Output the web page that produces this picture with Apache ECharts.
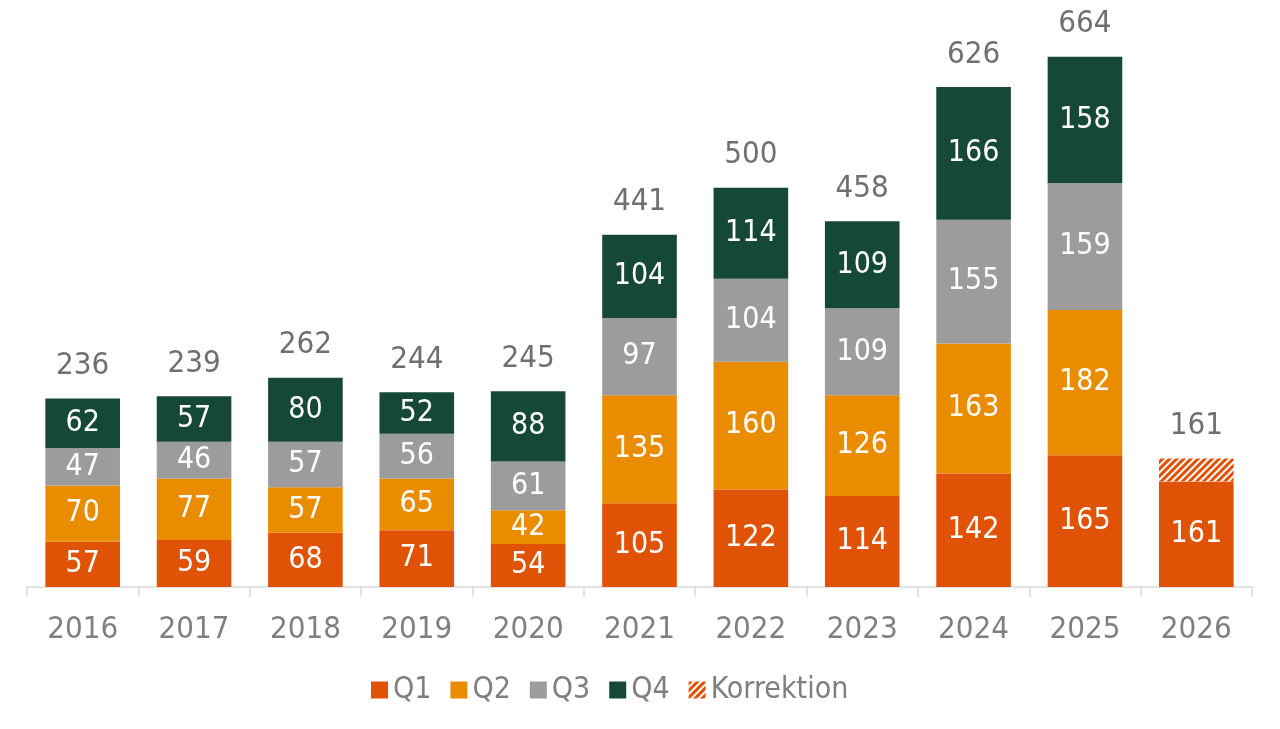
<!DOCTYPE html>
<html><head><meta charset="utf-8">
<script src="https://cdn.jsdelivr.net/npm/echarts@6/dist/echarts.min.js"></script>
<style>html,body{margin:0;padding:0;background:#fff}#c{width:1280px;height:729px}</style>
</head><body><div id="c"></div>
<script>
const categories = ['2016','2017','2018','2019','2020','2021','2022','2023','2024','2025','2026'];
const q1 = [57,59,68,71,54,105,122,114,142,165,132];
const q2 = [70,77,57,65,42,135,160,126,163,182,null];
const q3 = [47,46,57,56,61,97,104,109,155,159,null];
const q4 = [62,57,80,52,88,104,114,109,166,158,null];
const korrektion = [null,null,null,null,null,null,null,null,null,null,29];
const totals = [236,239,262,244,245,441,500,458,626,664,161];

const FONT = "'DejaVu Sans Condensed','DejaVu Sans',sans-serif";
const C1='#E05206', C2='#EA8C00', C3='#9C9C9C', C4='#16483A';
const inLabel = (fmt)=>({show:true,position:'inside',color:'#fff',fontSize:30,fontFamily:FONT,formatter:fmt});
function seg(name,data,color,fmt){
  return {name,type:'bar',stack:'s',data,barCategoryGap:'33%',itemStyle:{color},
    label:inLabel(fmt||(p=>p.value==null?'':p.value))};
}
const chart = echarts.init(document.getElementById('c'));
chart.setOption({
  animation:false,
  grid:{left:27,right:28,top:28,bottom:142},
  legend:{data:['Q1','Q2','Q3','Q4','Korrektion'],left:366,top:670,itemWidth:17,itemHeight:17,itemGap:19,
    textStyle:{fontSize:30,color:'#7f7f7f',fontFamily:FONT},icon:'rect'},
  xAxis:{type:'category',data:categories,
    axisLine:{lineStyle:{color:'#dadada',width:1.5}},
    axisTick:{show:true,length:10,lineStyle:{color:'#dadada',width:1.5}},
    axisLabel:{fontSize:31,color:'#7f7f7f',fontFamily:FONT,margin:27}},
  yAxis:{type:'value',min:0,max:700,show:false,splitLine:{show:false}},
  series:[
    seg('Q1',q1,C1,p=>String(p.value+(korrektion[p.dataIndex]||0))),
    seg('Q2',q2,C2),
    seg('Q3',q3,C3),
    seg('Q4',q4,C4),
    {name:'Korrektion',type:'bar',stack:'s',data:korrektion,
      itemStyle:{color:'#ffffff',decal:{symbol:'rect',color:C1,dashArrayX:[1,0],dashArrayY:[2.5,2],rotation:-Math.PI/4,symbolSize:1}},
      label:{show:false}},
    {name:'Total',type:'bar',stack:'s',data:categories.map(()=>0),itemStyle:{color:'transparent'},
      label:{show:true,position:'top',distance:17,color:'#6f6f6f',fontSize:31,fontFamily:FONT,
        formatter:p=>totals[p.dataIndex]}}
  ]
});
</script></body></html>
